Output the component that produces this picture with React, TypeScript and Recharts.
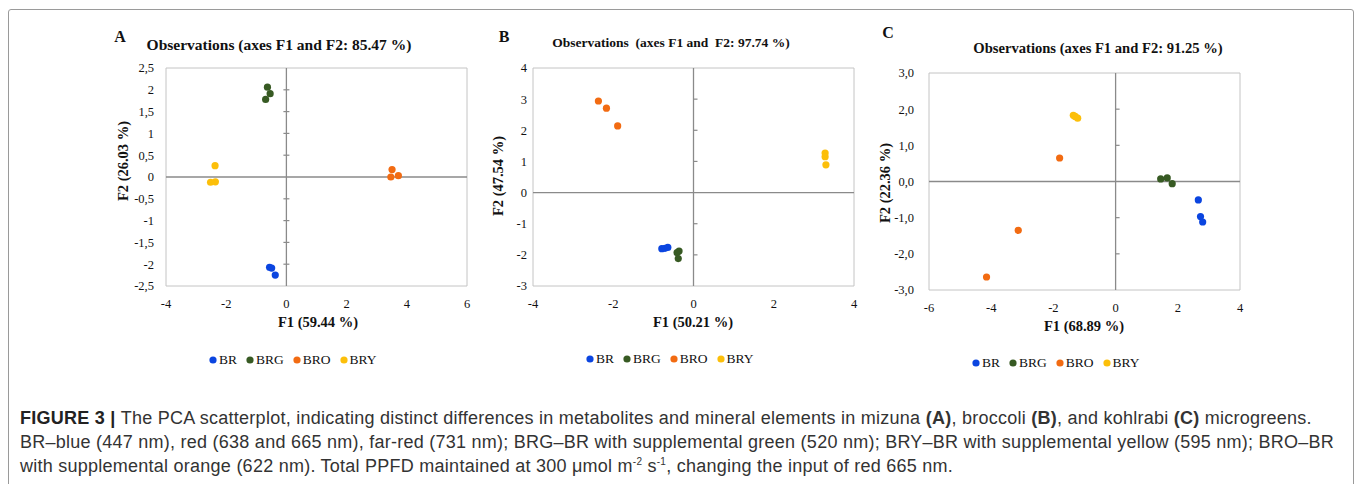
import React from 'react';
import { ScatterChart, Scatter, XAxis, YAxis, ReferenceLine, ReferenceArea } from 'recharts';

const SERIF = '"Liberation Serif", "Times New Roman", Times, serif';
const SANS = '"Liberation Sans", Arial, Helvetica, sans-serif';

// ---------- data ----------
const seriesNames = ['BR', 'BRG', 'BRO', 'BRY'];
const seriesColors = ['#0b45e0', '#375a23', '#f26b12', '#fcbf0a'];

// Panel A – mizuna
const mizunaBR = [{ x: -0.56, y: -2.07 }, { x: -0.49, y: -2.09 }, { x: -0.37, y: -2.25 }];
const mizunaBRG = [{ x: -0.63, y: 2.06 }, { x: -0.54, y: 1.91 }, { x: -0.69, y: 1.78 }];
const mizunaBRO = [{ x: 3.51, y: 0.17 }, { x: 3.47, y: 0.0 }, { x: 3.72, y: 0.03 }];
const mizunaBRY = [{ x: -2.37, y: 0.26 }, { x: -2.52, y: -0.12 }, { x: -2.36, y: -0.11 }];

// Panel B – broccoli
const broccoliBR = [{ x: -0.79, y: -1.8 }, { x: -0.71, y: -1.79 }, { x: -0.64, y: -1.76 }];
const broccoliBRG = [{ x: -0.36, y: -1.88 }, { x: -0.41, y: -1.93 }, { x: -0.38, y: -2.12 }];
const broccoliBRO = [{ x: -2.37, y: 2.94 }, { x: -2.17, y: 2.71 }, { x: -1.89, y: 2.14 }];
const broccoliBRY = [{ x: 3.28, y: 1.27 }, { x: 3.28, y: 1.15 }, { x: 3.3, y: 0.89 }];

// Panel C – kohlrabi
const kohlrabiBR = [{ x: 2.66, y: -0.51 }, { x: 2.73, y: -0.97 }, { x: 2.8, y: -1.12 }];
const kohlrabiBRG = [{ x: 1.45, y: 0.07 }, { x: 1.66, y: 0.1 }, { x: 1.82, y: -0.06 }];
const kohlrabiBRO = [{ x: -1.8, y: 0.65 }, { x: -3.13, y: -1.35 }, { x: -4.15, y: -2.64 }];
const kohlrabiBRY = [{ x: -1.36, y: 1.83 }, { x: -1.3, y: 1.8 }, { x: -1.22, y: 1.75 }];

// ticks
const ticksAX = [-4, -2, 0, 2, 4, 6];
const ticksAY = [-2.5, -2, -1.5, -1, -0.5, 0, 0.5, 1, 1.5, 2, 2.5];
const ticksBX = [-4, -2, 0, 2, 4];
const ticksBY = [-3, -2, -1, 0, 1, 2, 3, 4];
const ticksCX = [-6, -4, -2, 0, 2, 4];
const ticksCY = [-3, -2, -1, 0, 1, 2, 3];

// texts
const titleA = 'Observations (axes F1 and F2: 85.47 %)';
const titleB = 'Observations  (axes F1 and  F2: 97.74 %)';
const titleC = 'Observations (axes F1 and F2: 91.25 %)';
const xLabelA = 'F1 (59.44 %)';
const yLabelA = 'F2 (26.03 %)';
const xLabelB = 'F1 (50.21 %)';
const yLabelB = 'F2 (47.54 %)';
const xLabelC = 'F1 (68.89 %)';
const yLabelC = 'F2 (22.36 %)';

const commaFmt = (v: number) => String(v).replace('.', ',');
const intFmt = (v: number) => String(v);
const oneDecFmt = (v: number) => v.toFixed(1).replace('.', ',');

const Dot = (props: any) => <circle cx={props.cx} cy={props.cy} r={3.6} fill={props.fill} />;

type PanelCfg = {
  letter: string;
  title: string;
  xLabel: string;
  yLabel: string;
  series: { x: number; y: number }[][];
  xDomain: [number, number];
  yDomain: [number, number];
  xTicks: number[];
  yTicks: number[];
  xFmt: (v: number) => string;
  yFmt: (v: number) => string;
  left: number;
  top: number;
  width: number;
  height: number;
  margin: { top: number; right: number; bottom: number; left: number };
  yAxisWidth: number;
  yTickMargin: number;
  xTickMargin: number;
  tickCross: boolean;
  letterPos: [number, number];
  titlePos: [number, number];
  titleSize: number;
  xLabelPos: [number, number];
  yLabelPos: [number, number];
  labelSize: number;
  legendPos: [number, number];
};

const panels: PanelCfg[] = [
  {
    letter: 'A', title: titleA, xLabel: xLabelA, yLabel: yLabelA,
    series: [mizunaBR, mizunaBRG, mizunaBRO, mizunaBRY],
    xDomain: [-4, 6], yDomain: [-2.5, 2.5], xTicks: ticksAX, yTicks: ticksAY,
    xFmt: intFmt, yFmt: commaFmt,
    left: 100, top: 20, width: 380, height: 330,
    margin: { top: 48, right: 13, bottom: 34, left: 26 }, yAxisWidth: 40,
    yTickMargin: 12, xTickMargin: 13, tickCross: true,
    letterPos: [120, 37], titlePos: [279, 45], titleSize: 15.5,
    xLabelPos: [318, 322], yLabelPos: [123, 161], labelSize: 14.5,
    legendPos: [209, 360],
  },
  {
    letter: 'B', title: titleB, xLabel: xLabelB, yLabel: yLabelB,
    series: [broccoliBR, broccoliBRG, broccoliBRO, broccoliBRY],
    xDomain: [-4, 4], yDomain: [-3, 4], xTicks: ticksBX, yTicks: ticksBY,
    xFmt: intFmt, yFmt: intFmt,
    left: 480, top: 20, width: 390, height: 330,
    margin: { top: 48, right: 16, bottom: 34, left: 13 }, yAxisWidth: 40,
    yTickMargin: 6, xTickMargin: 13, tickCross: false,
    letterPos: [504, 37], titlePos: [671, 43], titleSize: 13.5,
    xLabelPos: [693, 322], yLabelPos: [498, 176], labelSize: 14.5,
    legendPos: [586, 359],
  },
  {
    letter: 'C', title: titleC, xLabel: xLabelC, yLabel: yLabelC,
    series: [kohlrabiBR, kohlrabiBRG, kohlrabiBRO, kohlrabiBRY],
    xDomain: [-6, 4], yDomain: [-3, 3], xTicks: ticksCX, yTicks: ticksCY,
    xFmt: intFmt, yFmt: oneDecFmt,
    left: 860, top: 20, width: 400, height: 335,
    margin: { top: 53, right: 20, bottom: 35, left: 24 }, yAxisWidth: 45,
    yTickMargin: 15, xTickMargin: 13, tickCross: false,
    letterPos: [888, 33], titlePos: [1098, 48], titleSize: 14.6,
    xLabelPos: [1084, 326], yLabelPos: [885, 183], labelSize: 14.5,
    legendPos: [972, 363],
  },
];

const abs = (x: number, y: number, extra: React.CSSProperties = {}): React.CSSProperties => ({
  position: 'absolute', left: x, top: y, whiteSpace: 'pre', ...extra,
});

function Panel({ cfg }: { cfg: PanelCfg }) {
  const plotW = cfg.width - cfg.margin.left - cfg.margin.right - cfg.yAxisWidth;
  const unitPx = (cfg.xDomain[1] - cfg.xDomain[0]) / plotW;
  const tickLen = 4 * unitPx;
  const innerTicks = cfg.yTicks.filter((t) => t !== 0 && t !== cfg.yDomain[0] && t !== cfg.yDomain[1]);
  return (
    <>
      <div style={abs(cfg.left, cfg.top)}>
        <ScatterChart width={cfg.width} height={cfg.height} margin={cfg.margin}>
          <XAxis
            type="number" dataKey="x" domain={cfg.xDomain} ticks={cfg.xTicks} interval={0}
            allowDataOverflow axisLine={false} tickLine={false} tickSize={0} tickMargin={cfg.xTickMargin}
            height={30} tickFormatter={cfg.xFmt}
            tick={{ fontFamily: SERIF, fontSize: 12.5, fill: '#111' }}
          />
          <YAxis
            type="number" dataKey="y" domain={cfg.yDomain} ticks={cfg.yTicks} interval={0}
            allowDataOverflow axisLine={false} tickLine={false} tickSize={0} tickMargin={cfg.yTickMargin}
            width={cfg.yAxisWidth} tickFormatter={cfg.yFmt}
            tick={{ fontFamily: SERIF, fontSize: 12.5, fill: '#111' }}
          />
          <ReferenceArea
            x1={cfg.xDomain[0]} x2={cfg.xDomain[1]} y1={cfg.yDomain[0]} y2={cfg.yDomain[1]}
            fill="none" stroke="#c4c4c4" strokeWidth={1} ifOverflow="visible"
          />
          <ReferenceLine x={0} stroke="#8a8a8a" strokeWidth={1.3} />
          <ReferenceLine y={0} stroke="#8a8a8a" strokeWidth={1.3} />
          {innerTicks.map((t) => (
            <ReferenceLine
              key={'t' + t}
              segment={[{ x: cfg.tickCross ? -tickLen * 0.75 : 0, y: t }, { x: cfg.tickCross ? tickLen * 0.75 : tickLen, y: t }]}
              stroke="#8a8a8a" strokeWidth={1.2}
            />
          ))}
          {cfg.series.map((s, i) => (
            <Scatter key={seriesNames[i]} name={seriesNames[i]} data={s} fill={seriesColors[i]} shape={Dot} isAnimationActive={false} />
          ))}
        </ScatterChart>
      </div>
      <div style={abs(cfg.letterPos[0], cfg.letterPos[1], { transform: 'translate(-50%,-50%)', fontFamily: SERIF, fontWeight: 700, fontSize: 16, color: '#111' })}>
        {cfg.letter}
      </div>
      <div style={abs(cfg.titlePos[0], cfg.titlePos[1], { transform: 'translate(-50%,-50%)', fontFamily: SERIF, fontWeight: 700, fontSize: cfg.titleSize, color: '#111' })}>
        {cfg.title}
      </div>
      <div style={abs(cfg.xLabelPos[0], cfg.xLabelPos[1], { transform: 'translate(-50%,-50%)', fontFamily: SERIF, fontWeight: 700, fontSize: cfg.labelSize, color: '#111' })}>
        {cfg.xLabel}
      </div>
      <div style={abs(cfg.yLabelPos[0], cfg.yLabelPos[1], { transform: 'translate(-50%,-50%) rotate(-90deg)', fontFamily: SERIF, fontWeight: 700, fontSize: cfg.labelSize, color: '#111' })}>
        {cfg.yLabel}
      </div>
      <div style={abs(cfg.legendPos[0], cfg.legendPos[1], { transform: 'translateY(-50%)', display: 'flex', alignItems: 'center', gap: 9, fontFamily: SERIF, fontSize: 13.5, color: '#111' })}>
        {seriesNames.map((n, i) => (
          <span key={n} style={{ display: 'flex', alignItems: 'center', gap: 2 }}>
            <svg width={8} height={8}><circle cx={4} cy={4} r={3.6} fill={seriesColors[i]} /></svg>
            <span>{n}</span>
          </span>
        ))}
      </div>
    </>
  );
}

const captionLine1 = ['The PCA scatterplot, indicating distinct differences in metabolites and mineral elements in mizuna ', '(A)', ', broccoli ', '(B)', ', and kohlrabi ', '(C)', ' microgreens.'];
const captionLine2 = 'BR\u2013blue (447 nm), red (638 and 665 nm), far-red (731 nm); BRG\u2013BR with supplemental green (520 nm); BRY\u2013BR with supplemental yellow (595 nm); BRO\u2013BR';

export default function App() {
  return (
    <div style={{ position: 'absolute', left: 0, top: 0, width: 1355, height: 484, background: '#fff', overflow: 'hidden' }}>
      <div style={{ position: 'absolute', left: 8, top: 9, width: 1344, height: 490, border: '1px solid #9a9a9a', borderRadius: 3 }} />
      {panels.map((p) => <Panel key={p.letter} cfg={p} />)}
      <div style={{ position: 'absolute', left: 20, top: 406, fontFamily: SANS, fontSize: 18, letterSpacing: 0.25, lineHeight: '24px', color: '#333', whiteSpace: 'nowrap' }}>
        <div>
          <b style={{ color: '#222' }}>FIGURE 3 | </b>
          {captionLine1.map((t, i) => (i % 2 === 1 ? <b key={i}>{t}</b> : <span key={i}>{t}</span>))}
        </div>
        <div>{captionLine2}</div>
        <div>
          with supplemental orange (622 nm). Total PPFD maintained at 300 μmol m<sup style={{ fontSize: 10, lineHeight: 0 }}>-2</sup> s<sup style={{ fontSize: 10, lineHeight: 0 }}>-1</sup>, changing the input of red 665 nm.
        </div>
      </div>
    </div>
  );
}
